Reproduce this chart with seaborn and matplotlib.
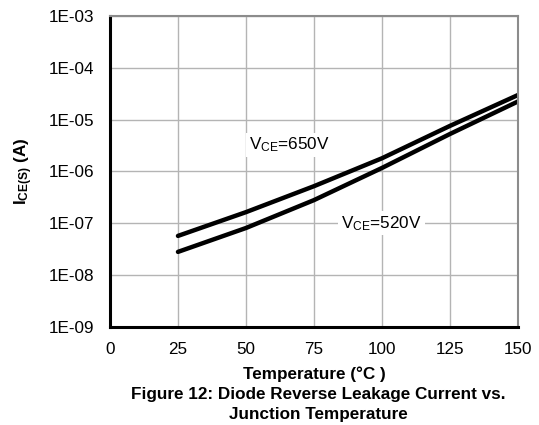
import numpy as np
import pandas as pd
import seaborn as sns
import matplotlib
matplotlib.use('Agg')
import matplotlib.pyplot as plt
from matplotlib.ticker import FuncFormatter

# data
temps = [25, 50, 75, 100, 125, 150]
i_650v = [5.7e-8, 1.64e-7, 5.2e-7, 1.8e-6, 7.6e-6, 3.0e-5]
i_520v = [2.8e-8, 8.1e-8, 2.8e-7, 1.17e-6, 5.3e-6, 2.25e-5]
series_names = ['650V', '520V']
x_ticks = [0, 25, 50, 75, 100, 125, 150]
y_ticks = [1e-9, 1e-8, 1e-7, 1e-6, 1e-5, 1e-4, 1e-3]

df = pd.DataFrame({
    'temp': temps * 2,
    'current': i_650v + i_520v,
    'vce': [series_names[0]] * len(temps) + [series_names[1]] * len(temps),
})

sns.set_style('white')
plt.rcParams['font.family'] = ['Liberation Sans', 'DejaVu Sans']
plt.rcParams['mathtext.fontset'] = 'custom'
plt.rcParams['mathtext.rm'] = 'Liberation Sans'
plt.rcParams['mathtext.bf'] = 'Liberation Sans:bold'
plt.rcParams['mathtext.default'] = 'rm'
plt.rcParams['text.color'] = 'black'
plt.rcParams['axes.labelcolor'] = 'black'

fs = 12.3

fig = plt.figure(figsize=(5.39, 4.25), dpi=100)
ax = fig.add_axes([0.204, 0.231, 0.757, 0.731])

sns.lineplot(data=df, x='temp', y='current', hue='vce',
             palette=['black', 'black'], linewidth=3.2, legend=False, ax=ax)

ax.set_yscale('log')
ax.set_xlim(0, 150)
ax.set_ylim(1e-9, 1e-3)
ax.set_xticks(x_ticks)
ax.set_yticks(y_ticks)
ax.minorticks_off()
ax.yaxis.set_major_formatter(FuncFormatter(lambda v, p: format(v, '.0E')))
ax.tick_params(axis='both', length=0, labelsize=fs, colors='black')
ax.tick_params(axis='y', pad=11)
ax.tick_params(axis='x', pad=11)
ax.grid(True, color='#b4b4b4', linewidth=1.0)

for s in ['left', 'bottom']:
    ax.spines[s].set_color('black')
    ax.spines[s].set_linewidth(2.2)
for s in ['top', 'right']:
    ax.spines[s].set_color('#8c8c8c')
    ax.spines[s].set_linewidth(1.5)

ax.set_xlabel('Temperature (°C )', fontweight='bold', fontsize=fs, labelpad=7)
ax.set_ylabel(r'$\mathbf{I_{CE(S)}}$ (A)', fontweight='bold', fontsize=fs, labelpad=10)

box = dict(facecolor='white', edgecolor='none', pad=2)
ax.text(51.0, 10 ** -5.49, r'V$_{CE}$=650V', fontsize=fs, va='center', ha='left', bbox=box)
ax.text(85.0, 1.0e-7, r'V$_{CE}$=520V', fontsize=fs, va='center', ha='left', bbox=box)

fig.text(0.59, 0.048, 'Figure 12: Diode Reverse Leakage Current vs.\nJunction Temperature',
         ha='center', va='center', fontweight='bold', fontsize=fs, linespacing=1.35)

fig.savefig('out.png', dpi=100)
